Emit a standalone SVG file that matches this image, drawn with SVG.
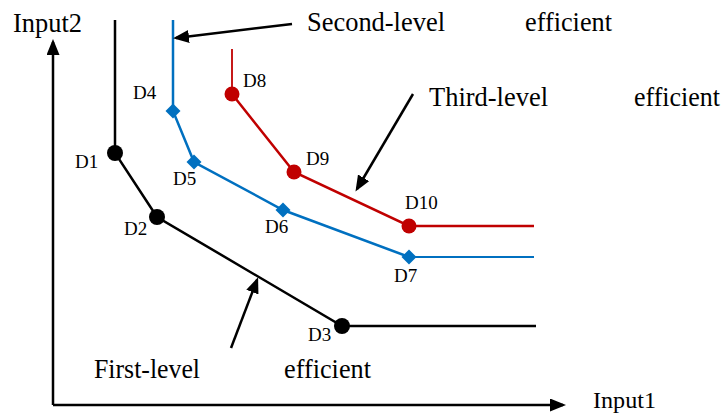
<svg xmlns="http://www.w3.org/2000/svg" width="724" height="416" viewBox="0 0 724 416">
<style>
text{fill:#000}
.big{font-size:27px}
.lab{font-size:19px}
.blk{fill:none;stroke:#000;stroke-width:2.5}
.blu{fill:none;stroke:#0070C0;stroke-width:2.5}
.red{fill:none;stroke:#C00000;stroke-width:2.5}
.ax{fill:none;stroke:#000;stroke-width:2.5}
.ptr{fill:none;stroke:#000;stroke-width:2.5}
.dk{fill:#000}
.db{fill:#0070C0}
.dr{fill:#C00000}
</style>
<defs>
<marker id="ah" markerWidth="16" markerHeight="13" refX="13" refY="6.5" orient="auto" markerUnits="userSpaceOnUse">
<path d="M0,0 L16,6.5 L0,13 z" fill="#000"/>
</marker>
</defs>
<g id="connectors">
<path id="axis-y" class="ax" d="M53,405 L53,42" marker-end="url(#ah)"/>
<path id="axis-x" class="ax" d="M53,405 L563,405" marker-end="url(#ah)"/>
<path id="first-curve" class="blk" d="M115,20 L115,153 L157,217 L342,326 L536,326"/>
<path id="second-curve" class="blu" d="M173,20 L173,111 L194,162 L283,210 L409,257"/>
<path class="blu" style="stroke-width:2" d="M409,257 L534,257"/>
<path class="red" style="stroke-width:1.8" d="M232,49 L232,94"/>
<path id="third-curve" class="red" d="M232,94 L294,172 L409,226 L534,226"/>
<path id="ptr-second" class="ptr" d="M292,24 L176,38" marker-end="url(#ah)"/>
<path id="ptr-third" class="ptr" d="M413,94 L357,189" marker-end="url(#ah)"/>
<path id="ptr-first" class="ptr" d="M231,348 L257,280" marker-end="url(#ah)"/>
</g>
<g font-family="'Liberation Serif', 'Times New Roman', Tinos, 'DejaVu Serif', serif">
<g id="Input2"><text class="big" x="13" y="32" style="font-size:28px" textLength="69" lengthAdjust="spacingAndGlyphs">Input2</text></g>
<g id="Input1"><text class="big" x="593" y="408" style="font-size:24px" textLength="63" lengthAdjust="spacingAndGlyphs">Input1</text></g>
<g id="D1"><circle class="dk" cx="115" cy="153" r="8"/><text class="lab" x="75" y="168">D1</text></g>
<g id="D2"><circle class="dk" cx="157" cy="217" r="8"/><text class="lab" x="124" y="235">D2</text></g>
<g id="D3"><circle class="dk" cx="342" cy="326" r="8"/><text class="lab" x="308" y="341">D3</text></g>
<g id="D4"><path class="db" d="M173,103.5 L180.5,111 L173,118.5 L165.5,111 z"/><text class="lab" x="133" y="99">D4</text></g>
<g id="D5"><path class="db" d="M194,154.5 L201.5,162 L194,169.5 L186.5,162 z"/><text class="lab" x="173" y="185">D5</text></g>
<g id="D6"><path class="db" d="M283,202.5 L290.5,210 L283,217.5 L275.5,210 z"/><text class="lab" x="265" y="233">D6</text></g>
<g id="D7"><path class="db" d="M409,249.5 L416.5,257 L409,264.5 L401.5,257 z"/><text class="lab" x="394" y="282">D7</text></g>
<g id="D8"><circle class="dr" cx="232" cy="94" r="7.5"/><text class="lab" x="243" y="87">D8</text></g>
<g id="D9"><circle class="dr" cx="294" cy="172" r="7.5"/><text class="lab" x="306" y="165">D9</text></g>
<g id="D10"><circle class="dr" cx="409" cy="226" r="7.5"/><text class="lab" x="405" y="209">D10</text></g>
<g id="label-second"><text class="big" x="307" y="31" style="font-size:28px" textLength="138" lengthAdjust="spacingAndGlyphs">Second-level</text><text class="big" x="525" y="31" style="font-size:28px" textLength="87" lengthAdjust="spacingAndGlyphs">efficient</text></g>
<g id="label-third"><text class="big" x="429" y="106" textLength="119" lengthAdjust="spacingAndGlyphs">Third-level</text><text class="big" x="634" y="106" textLength="86" lengthAdjust="spacingAndGlyphs">efficient</text></g>
<g id="label-first"><text class="big" x="94" y="378" textLength="106" lengthAdjust="spacingAndGlyphs">First-level</text><text class="big" x="284" y="378" textLength="87" lengthAdjust="spacingAndGlyphs">efficient</text></g>
</g>
</svg>
